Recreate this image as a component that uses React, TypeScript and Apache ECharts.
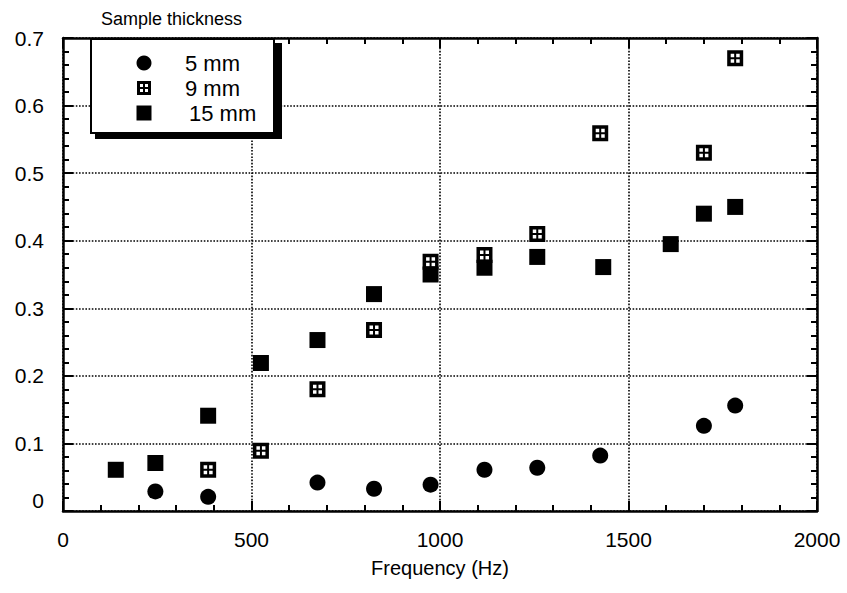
import React, { useEffect, useRef } from "react";
import * as echarts from "echarts";

// Absorption coefficient vs. frequency for three sample thicknesses
const freq5mm = [245, 385, 675, 825, 975, 1118, 1258, 1425, 1700, 1783];
const alpha5mm = [0.029, 0.021, 0.042, 0.033, 0.039, 0.061, 0.064, 0.082, 0.126, 0.156];

const freq9mm = [385, 525, 675, 825, 975, 1118, 1258, 1425, 1700, 1783];
const alpha9mm = [0.061, 0.089, 0.18, 0.268, 0.369, 0.379, 0.41, 0.559, 0.53, 0.67];

const freq15mm = [140, 245, 385, 525, 675, 825, 975, 1118, 1258, 1433, 1612, 1700, 1783];
const alpha15mm = [0.061, 0.071, 0.141, 0.219, 0.253, 0.321, 0.35, 0.36, 0.376, 0.361, 0.395, 0.44, 0.45];

const seriesNames = ["5 mm", "9 mm", "15 mm"];
const legendTitle = "Sample thickness";
const xAxisName = "Frequency (Hz)";

const FONT = "'Liberation Sans', Arial, Helvetica, sans-serif";

// Square with four windows (the "9 mm" marker); inner squares wind the other way so they become holes
const hatchedPath =
  "path://M0,0 H16 V16 H0 Z M3.5,3.5 V7 H7 V3.5 Z M9,3.5 V7 H12.5 V3.5 Z M3.5,9 V12.5 H7 V9 Z M9,9 V12.5 H12.5 V9 Z";

const zip = (xs: number[], ys: number[]) => xs.map((x, i) => [x, ys[i]]);

export default function App() {
  const ref = useRef<HTMLDivElement>(null);

  useEffect(() => {
    if (!ref.current) return;
    const chart = echarts.init(ref.current, undefined, { renderer: "svg" });

    const axisLine = { show: true, onZero: false, lineStyle: { color: "#000", width: 2.5 } };
    const tick = { show: true, inside: true, length: 10, lineStyle: { color: "#000", width: 2 } };
    const minorTick = { show: true, splitNumber: 5, length: 6, lineStyle: { color: "#000", width: 2 } };
    const grid = { show: true, lineStyle: { color: "#000", width: 1.6, type: [1.6, 1.6] } };

    const xBase = { type: "value", min: 0, max: 2000, interval: 500 };
    const yBase = { type: "value", min: 0, max: 0.7, interval: 0.1 };

    // legend drawn as a framed box with a heavy drop shadow
    const boxX = 91;
    const boxY = 39;
    const boxW = 183;
    const boxH = 94;
    const iconX = 144;
    const textX = 185;
    const rowY = [63, 88, 113];

    const hatchedIcon = (cx: number, cy: number) => {
      const x0 = cx - 7;
      const y0 = cy - 7;
      const win = (dx: number, dy: number) => ({
        type: "rect",
        z: 23,
        shape: { x: x0 + dx, y: y0 + dy, width: 3, height: 3 },
        style: { fill: "#fff" },
      });
      return [
        { type: "rect", z: 22, shape: { x: x0, y: y0, width: 14, height: 14 }, style: { fill: "#000" } },
        win(3, 3),
        win(8, 3),
        win(3, 8),
        win(8, 8),
      ];
    };

    chart.setOption({
      animation: false,
      backgroundColor: "#fff",
      grid: { left: 63, right: 30, top: 38, bottom: 82 },
      xAxis: [
        {
          ...xBase,
          position: "bottom",
          name: xAxisName,
          nameLocation: "middle",
          nameGap: 47,
          nameTextStyle: { color: "#000", fontSize: 20, fontFamily: FONT },
          axisLine,
          axisTick: tick,
          minorTick: { ...minorTick },
          splitLine: grid,
          axisLabel: {
            color: "#000",
            fontSize: 21,
            fontFamily: FONT,
            margin: 18,
            formatter: (v: number) => String(v),
          },
        },
        {
          ...xBase,
          position: "top",
          axisLine,
          axisTick: tick,
          minorTick: { ...minorTick },
          splitLine: { show: false },
          axisLabel: { show: false },
        },
      ],
      yAxis: [
        {
          ...yBase,
          position: "left",
          axisLine,
          axisTick: tick,
          minorTick: { ...minorTick },
          splitLine: grid,
          axisLabel: {
            color: "#000",
            fontSize: 21,
            fontFamily: FONT,
            margin: 19,
            formatter: (v: number) => (v === 0 ? "{z|0}" : v.toFixed(1)),
            rich: { z: { fontSize: 21, fontFamily: FONT, color: "#000", padding: [0, 0, 22, 0] } },
          },
        },
        {
          ...yBase,
          position: "right",
          axisLine,
          axisTick: tick,
          minorTick: { ...minorTick },
          splitLine: { show: false },
          axisLabel: { show: false },
        },
      ],
      series: [
        {
          name: seriesNames[0],
          type: "scatter",
          symbol: "circle",
          symbolSize: 16,
          itemStyle: { color: "#000", opacity: 1 },
          data: zip(freq5mm, alpha5mm),
          z: 3,
        },
        {
          name: seriesNames[2],
          type: "scatter",
          symbol: "rect",
          symbolSize: 16,
          itemStyle: { color: "#000", opacity: 1 },
          data: zip(freq15mm, alpha15mm),
          z: 4,
        },
        {
          name: seriesNames[1],
          type: "scatter",
          symbol: hatchedPath,
          symbolSize: 16,
          itemStyle: { color: "#000", opacity: 1 },
          data: zip(freq9mm, alpha9mm),
          z: 5,
        },
      ],
      graphic: [
        {
          type: "text",
          left: 101,
          top: 10,
          z: 20,
          style: { text: legendTitle, fontSize: 18, fontFamily: FONT, fill: "#000" },
        },
        {
          type: "rect",
          z: 20,
          shape: { x: boxX + 4, y: boxY + 4, width: boxW + 4, height: boxH + 2 },
          style: { fill: "#000" },
        },
        {
          type: "rect",
          z: 21,
          shape: { x: boxX, y: boxY, width: boxW, height: boxH },
          style: { fill: "#fff", stroke: "#000", lineWidth: 2 },
        },
        {
          type: "circle",
          z: 22,
          shape: { cx: iconX, cy: rowY[0], r: 7.5 },
          style: { fill: "#000" },
        },
        ...hatchedIcon(iconX, rowY[1]),
        {
          type: "rect",
          z: 22,
          shape: { x: iconX - 7.5, y: rowY[2] - 7.5, width: 15, height: 15 },
          style: { fill: "#000" },
        },
        ...seriesNames.map((n, i) => ({
          type: "text",
          z: 22,
          x: textX + (i === 2 ? 4 : 0),
          y: rowY[i],
          style: {
            text: n,
            fontSize: 22,
            fontFamily: FONT,
            fill: "#000",
            verticalAlign: "middle",
            textAlign: "left",
          },
        })),
      ],
    });

    return () => chart.dispose();
  }, []);

  return (
    <div
      ref={ref}
      style={{ position: "fixed", left: 0, top: 0, width: 847, height: 593, background: "#fff" }}
    />
  );
}
